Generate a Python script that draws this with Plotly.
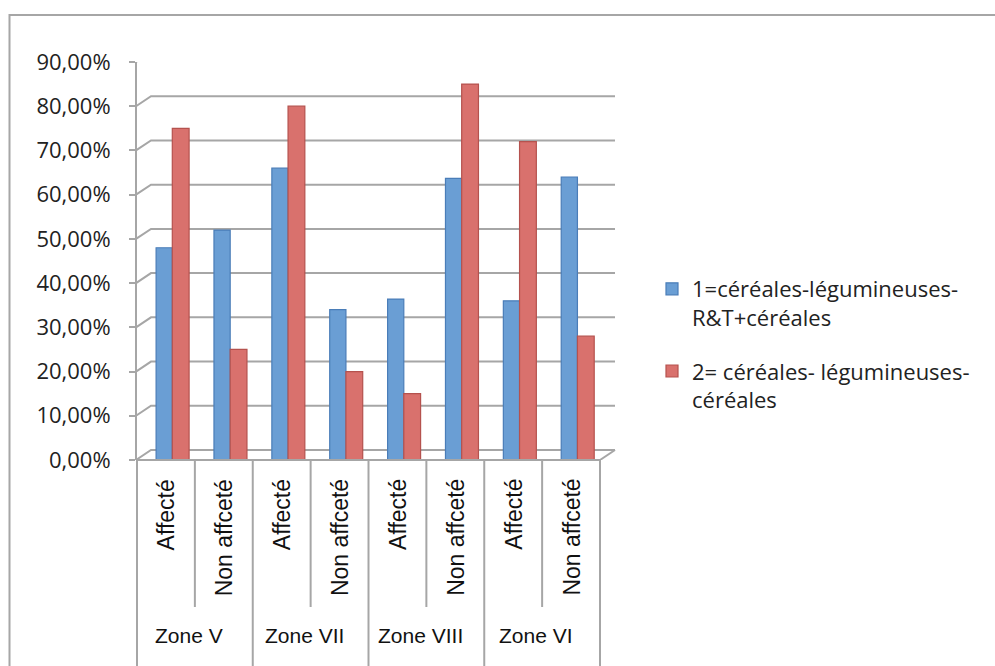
import plotly.graph_objects as go

zones = ["Zone V", "Zone VII", "Zone VIII", "Zone VI"]
subcats = ["Affecté", "Non affceté"]
series1_name = "1=céréales-légumineuses-<br>R&T+céréales"
series2_name = "2= céréales- légumineuses-<br>céréales"
series1 = [0.48, 0.52, 0.66, 0.34, 0.364, 0.637, 0.36, 0.64]
series2 = [0.75, 0.25, 0.80, 0.20, 0.15, 0.85, 0.72, 0.28]
y_ticks = [0, 0.1, 0.2, 0.3, 0.4, 0.5, 0.6, 0.7, 0.8, 0.9]

outer = [z for z in zones for _ in subcats]
inner = [s for _ in zones for s in subcats]
x = [outer, inner]

W, H = 995, 666
L, R, T, B = 137, 395, 62, 206
pw, ph = W - L - R, H - T - B
GRID = "#a6a6a6"

fig = go.Figure()
fig.add_trace(go.Bar(
    x=x, y=series1, name=series1_name, legendgroup="a",
    marker=dict(color="#6a9ed4", line=dict(color="#4a7db8", width=1.2)),
    offset=-0.17, width=0.28,
))
fig.add_trace(go.Bar(
    x=x, y=series2, name=series2_name, legendgroup="b",
    marker=dict(color="#d9716d", line=dict(color="#b5524e", width=1.2)),
    offset=0.11, width=0.29,
))

shapes = []
# back-wall gridlines with 3D slant connectors (pixel offsets from each tick)
for v in y_ticks:
    shapes.append(dict(type="path", xref="paper", yref="y",
                       xsizemode="pixel", ysizemode="pixel",
                       xanchor=0, yanchor=v,
                       path="M -1,0 L 14,10 L 478,10",
                       line=dict(color=GRID, width=2), layer="below"))
# right floor slant
shapes.append(dict(type="path", xref="paper", yref="y",
                   xsizemode="pixel", ysizemode="pixel",
                   xanchor=1, yanchor=0,
                   path="M 0,0 L 15,10",
                   line=dict(color=GRID, width=2), layer="below"))
# inner boundaries between sub-categories
n = len(inner)
for i in range(1, n, 2):
    xd = i / n
    shapes.append(dict(type="line", xref="x domain", yref="paper",
                       x0=xd, x1=xd, y0=0, y1=-(607 - 460) / ph,
                       line=dict(color=GRID, width=2)))
# zone boundaries
for i in range(0, n + 1, 2):
    xd = i / n
    shapes.append(dict(type="line", xref="x domain", yref="paper",
                       x0=xd, x1=xd, y0=0, y1=-(670 - 460) / ph,
                       line=dict(color=GRID, width=2)))
# front floor line
shapes.append(dict(type="line", xref="x domain", yref="paper",
                   x0=0, x1=1, y0=0, y1=0,
                   line=dict(color=GRID, width=2)))
# outer chart border
shapes.append(dict(type="rect", xref="paper", yref="paper",
                   x0=(9.5 - L) / pw, x1=(1010 - L) / pw,
                   y0=(460 - 680) / ph, y1=(460 - 15) / ph,
                   line=dict(color=GRID, width=2), fillcolor="rgba(0,0,0,0)"))

annotations = []
for k, z in enumerate(zones):
    annotations.append(dict(text=z, xref="x domain", yref="paper",
                            x=(2 * k + 1) / n, y=-(635 - 460) / ph, xshift=-6,
                            showarrow=False, xanchor="center", yanchor="middle",
                            font=dict(family="Liberation Sans, Arial", size=21, color="#111111")))
for i, s in enumerate(inner):
    annotations.append(dict(text=s, xref="x domain", yref="paper",
                            x=(i + 0.5) / n, y=-(477 - 460) / ph,
                            showarrow=False, textangle=-90,
                            xanchor="center", yanchor="top",
                            font=dict(family="Liberation Sans, Arial", size=23, color="#111111")))

fig.update_layout(
    width=W, height=H,
    margin=dict(l=L, r=R, t=T, b=B, autoexpand=False),
    paper_bgcolor="white", plot_bgcolor="white",
    barmode="overlay",
    separators=", ",
    showlegend=True,
    legend=dict(x=(652 - L) / pw, y=(460 - 268) / ph, xanchor="left", yanchor="top",
                font=dict(family="Open Sans", size=22, color="#222222"),
                valign="top", tracegroupgap=22, traceorder="grouped",
                itemwidth=30),
    shapes=shapes,
    annotations=annotations,
)
fig.update_xaxes(type="multicategory", showticklabels=False, showgrid=False,
                 showline=False, ticks="", showdividers=False, zeroline=False)
fig.update_yaxes(range=[0, 0.9], tickvals=y_ticks, tickformat=".2%",
                 showgrid=False,
                 showline=True, linecolor=GRID, linewidth=2,
                 ticks="outside", ticklen=6, tickcolor=GRID, tickwidth=2,
                 ticklabelstandoff=14, zeroline=False,
                 tickfont=dict(family="Open Sans", size=22, color="#222222"))

fig.write_html("out.html", config={"displayModeBar": False},
               post_script="document.body.style.margin='0';")
